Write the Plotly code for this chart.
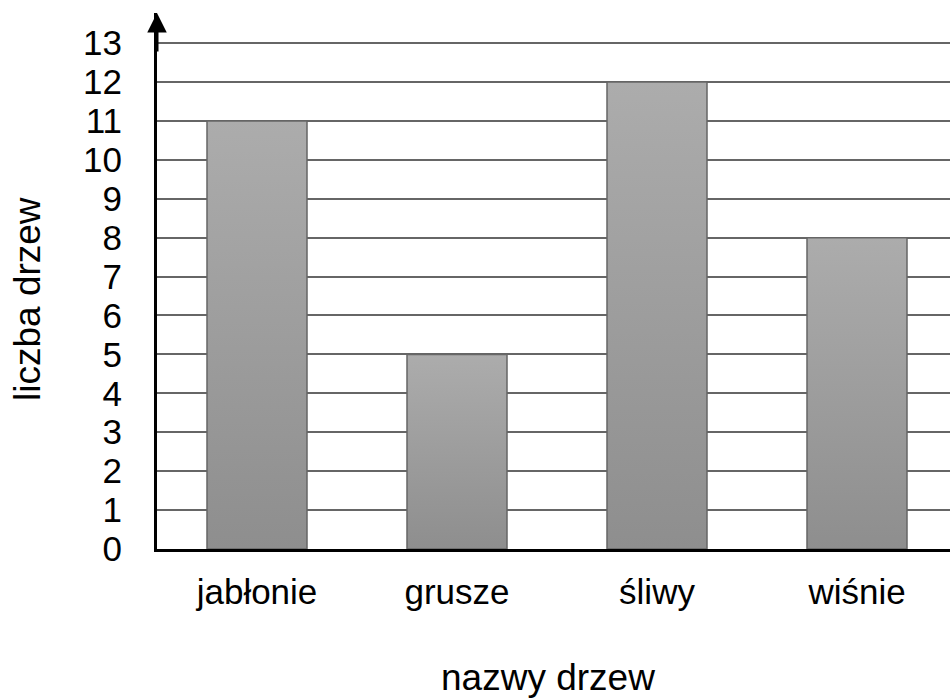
import plotly.graph_objects as go

categories = ["jabłonie", "grusze", "śliwy", "wiśnie"]
values = [11, 5, 12, 8]
y_ticks = list(range(0, 14))

bar_half = 0.25
FONT = "Liberation Sans, Arial, sans-serif"
FS = 35
FT = 37

fig = go.Figure()
for i, (cat, v) in enumerate(zip(categories, values)):
    fig.add_trace(go.Scatter(
        x=[i - bar_half, i - bar_half, i + bar_half, i + bar_half, i - bar_half],
        y=[0, v, v, 0, 0],
        mode="lines",
        fill="toself",
        fillgradient=dict(type="vertical",
                          colorscale=[[0, "#8e8e8e"], [1, "#acacac"]]),
        line=dict(color="#666666", width=1.5),
        name=cat,
        hoverinfo="skip",
        showlegend=False,
    ))

fig.update_layout(
    width=950, height=700,
    margin=dict(l=157, r=0, t=13, b=151, autoexpand=False),
    paper_bgcolor="white", plot_bgcolor="white",
    font=dict(family=FONT, size=FS, color="black"),
    showlegend=False,
    xaxis=dict(
        range=[-0.5, 3.465],
        tickmode="array", tickvals=list(range(len(categories))), ticktext=categories,
        showgrid=False, zeroline=False,
        showline=True, linecolor="black", linewidth=3,
        ticks="", ticklabelstandoff=10,
        tickfont=dict(size=FS),
        automargin=False,
        fixedrange=True,
    ),
    yaxis=dict(
        range=[0, (549 - 13) / 38.92],
        tickmode="array", tickvals=y_ticks, ticktext=[str(t) for t in y_ticks],
        showgrid=True, gridcolor="#666666", gridwidth=1.5,
        zeroline=False,
        showline=True, linecolor="black", linewidth=3,
        ticks="", ticklabelstandoff=25,
        tickfont=dict(size=FS),
        automargin=False,
        fixedrange=True,
    ),
    annotations=[
        dict(x=0, y=1, xref="paper", yref="paper",
             text="", showarrow=True, arrowhead=2, arrowsize=1.3, arrowwidth=3,
             arrowcolor="black", ax=0, ay=40),
        dict(x=0.5, y=0, xref="paper", yref="paper", text="nazwy drzew",
             showarrow=False, xanchor="center", yanchor="middle",
             xshift=-6, yshift=-128, font=dict(size=FT)),
        dict(x=0, y=0.5, xref="paper", yref="paper", text="liczba drzew",
             showarrow=False, xanchor="center", yanchor="middle", textangle=-90,
             xshift=-130, yshift=-18, font=dict(size=FT)),
    ],
)

fig.write_html("out.html",
               config={"displayModeBar": False},
               post_script="document.body.style.margin='0';document.body.style.overflow='hidden';")
